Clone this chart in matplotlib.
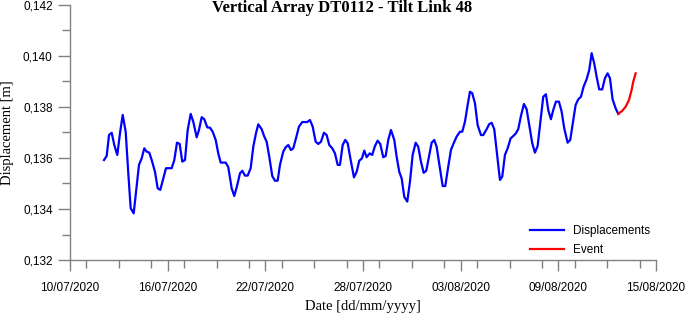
import numpy as np
import pandas as pd
import matplotlib
matplotlib.use("Agg")
import matplotlib.pyplot as plt
import matplotlib.dates as mdates
from matplotlib.ticker import FuncFormatter, MultipleLocator

# ---- data (days since 10/07/2020 00:00, displacement in m) ----
start_date = "2020-07-10"

disp_days = [
    2.088, 2.254, 2.396, 2.561, 2.721, 2.905, 3.071, 3.237, 3.421, 3.581,
    3.728, 3.913, 4.072, 4.238, 4.404, 4.564, 4.711, 4.871, 5.018, 5.221,
    5.387, 5.547, 5.731, 5.897, 6.247, 6.407, 6.572, 6.738, 6.898, 7.064,
    7.230, 7.414, 7.574, 7.783, 7.924, 8.090, 8.249, 8.434, 8.600, 8.765,
    8.950, 9.109, 9.257, 9.564, 9.724, 9.932, 10.092, 10.276, 10.442, 10.584,
    10.749, 10.915, 11.099, 11.259, 11.425, 11.566, 11.775, 11.935, 12.082, 12.242,
    12.426, 12.592, 12.758, 12.899, 13.102, 13.249, 13.409, 13.575, 13.716, 13.882,
    14.066, 14.269, 14.576, 14.742, 14.908, 15.092, 15.252, 15.418, 15.602, 15.768,
    15.928, 16.112, 16.278, 16.444, 16.585, 16.751, 16.910, 17.058, 17.260, 17.445,
    17.611, 17.770, 17.936, 18.077, 18.225, 18.409, 18.569, 18.735, 18.900, 19.060,
    19.245, 19.392, 19.552, 19.717, 19.920, 20.067, 20.227, 20.375, 20.534, 20.719,
    20.885, 21.050, 21.235, 21.394, 21.560, 21.726, 21.886, 22.052, 22.217, 22.377,
    22.524, 22.727, 22.893, 23.053, 23.237, 23.403, 23.569, 23.753, 23.956, 24.097,
    24.263, 24.429, 24.570, 24.711, 24.877, 25.043, 25.246, 25.387, 25.596, 25.755,
    25.903, 26.063, 26.210, 26.413, 26.554, 26.720, 26.886, 27.070, 27.230, 27.396,
    27.537, 27.703, 27.887, 28.053, 28.194, 28.397, 28.563, 28.728, 28.888, 29.073,
    29.238, 29.380, 29.545, 29.687, 29.853, 30.037, 30.203, 30.363, 30.571, 30.731,
    30.916, 31.062, 31.222, 31.388, 31.554, 31.739, 31.898, 32.045, 32.205, 32.352,
    32.512, 32.697, 32.862, 33.028, 33.170, 33.335, 33.520, 33.680,
]
disp_values = [
    0.13592, 0.13608, 0.13690, 0.13699, 0.13651, 0.13612, 0.13697, 0.13769, 0.13703, 0.13540,
    0.13403, 0.13383, 0.13475, 0.13573, 0.13599, 0.13638, 0.13625, 0.13621, 0.13592, 0.13546,
    0.13481, 0.13475, 0.13520, 0.13560, 0.13560, 0.13592, 0.13660, 0.13655, 0.13586, 0.13592,
    0.13710, 0.13773, 0.13742, 0.13681, 0.13710, 0.13760, 0.13752, 0.13720, 0.13719, 0.13703,
    0.13671, 0.13618, 0.13582, 0.13582, 0.13564, 0.13481, 0.13451, 0.13494, 0.13540, 0.13550,
    0.13531, 0.13531, 0.13560, 0.13644, 0.13697, 0.13732, 0.13713, 0.13684, 0.13664, 0.13605,
    0.13529, 0.13511, 0.13511, 0.13573, 0.13625, 0.13642, 0.13651, 0.13631, 0.13638, 0.13677,
    0.13723, 0.13741, 0.13741, 0.13749, 0.13723, 0.13664, 0.13655, 0.13664, 0.13699, 0.13690,
    0.13651, 0.13638, 0.13618, 0.13573, 0.13573, 0.13651, 0.13671, 0.13658, 0.13586, 0.13524,
    0.13546, 0.13589, 0.13599, 0.13629, 0.13603, 0.13618, 0.13612, 0.13647, 0.13668, 0.13655,
    0.13603, 0.13608, 0.13671, 0.13710, 0.13671, 0.13605, 0.13546, 0.13520, 0.13448, 0.13429,
    0.13507, 0.13612, 0.13660, 0.13644, 0.13586, 0.13542, 0.13550, 0.13605, 0.13660, 0.13671,
    0.13644, 0.13560, 0.13490, 0.13490, 0.13566, 0.13631, 0.13658, 0.13684, 0.13703, 0.13703,
    0.13742, 0.13808, 0.13860, 0.13854, 0.13815, 0.13729, 0.13690, 0.13690, 0.13713, 0.13733,
    0.13738, 0.13713, 0.13631, 0.13514, 0.13527, 0.13612, 0.13638, 0.13677, 0.13686, 0.13697,
    0.13713, 0.13765, 0.13812, 0.13791, 0.13736, 0.13658, 0.13621, 0.13647, 0.13736, 0.13840,
    0.13850, 0.13788, 0.13752, 0.13788, 0.13821, 0.13821, 0.13782, 0.13716, 0.13660, 0.13671,
    0.13749, 0.13808, 0.13830, 0.13840, 0.13880, 0.13909, 0.13945, 0.14011, 0.13971, 0.13919,
    0.13869, 0.13869, 0.13913, 0.13932, 0.13913, 0.13830, 0.13795, 0.13773,
]
event_days = [33.680, 33.925, 34.134, 34.337, 34.503, 34.601, 34.748]
event_values = [0.13773, 0.13785, 0.13801, 0.13827, 0.13867, 0.13899, 0.13932]

x_tick_labels = ["10/07/2020", "16/07/2020", "22/07/2020", "28/07/2020",
                 "03/08/2020", "09/08/2020", "15/08/2020"]
y_ticks = [0.132, 0.134, 0.136, 0.138, 0.140, 0.142]

title = "Vertical Array DT0112 - Tilt Link 48"
xlabel = "Date [dd/mm/yyyy]"
ylabel = "Displacement [m]"
legend_labels = ["Displacements", "Event"]

# ---- build ----
t0 = pd.Timestamp(start_date)
disp_t = t0 + pd.to_timedelta(disp_days, unit="D")
event_t = t0 + pd.to_timedelta(event_days, unit="D")
xtick_dates = pd.to_datetime(x_tick_labels, format="%d/%m/%Y")

W, H = 685, 316
fig = plt.figure(figsize=(W / 100, H / 100), dpi=100)
ax = fig.add_axes([70 / W, 1 - 260 / H, (656 - 70) / W, 255 / H])

ax.plot(disp_t, disp_values, color="#0000ff", lw=1.6, label=legend_labels[0])
ax.plot(event_t, event_values, color="#ff0000", lw=1.6, label=legend_labels[1])

ax.set_xlim(xtick_dates[0], xtick_dates[-1])
ax.set_ylim(y_ticks[0], y_ticks[-1])

ax.set_xticks(xtick_dates)
ax.set_xticklabels(x_tick_labels)
ax.xaxis.set_minor_locator(mdates.DayLocator(interval=2))
ax.set_yticks(y_ticks)
ax.yaxis.set_major_formatter(FuncFormatter(lambda v, p: f"{v:.3f}".replace(".", ",")))
ax.yaxis.set_minor_locator(MultipleLocator(0.001))

gray = "#808080"
for s in ["top", "right"]:
    ax.spines[s].set_visible(False)
for s in ["left", "bottom"]:
    ax.spines[s].set_color(gray)
    ax.spines[s].set_linewidth(1.0)

sans = "Liberation Sans"
serif = "Liberation Serif"
ax.tick_params(axis="both", which="both", direction="out", color=gray, width=1.0)
ax.tick_params(axis="x", which="major", length=8, pad=8, labelsize=8.5)
ax.tick_params(axis="x", which="minor", length=6)
ax.tick_params(axis="y", which="major", length=9, pad=3.5, labelsize=8.5)
ax.tick_params(axis="y", which="minor", length=6)
for lab in ax.get_xticklabels() + ax.get_yticklabels():
    lab.set_fontfamily(sans)

ax.set_xlabel(xlabel, fontfamily=serif, fontsize=10.5)
ax.xaxis.set_label_coords(0.5, -(300 - 260) / 255)
ax.set_ylabel(ylabel, fontfamily=serif, fontsize=10.5)
ax.yaxis.set_label_coords((14 - 70) / 586, 0.5)

fig.text(0.5, 1 - 8.5 / H, title, ha="center", va="center",
         fontfamily=serif, fontweight="bold", fontsize=12)

leg = ax.legend(loc="upper left", bbox_to_anchor=(530 / W, 1 - 225 / H),
                bbox_transform=fig.transFigure, frameon=False,
                prop={"family": sans, "size": 8.5}, borderpad=0, borderaxespad=0,
                handlelength=2.9, handletextpad=0.75, labelspacing=0.6)

fig.savefig("out.png", dpi=100)
